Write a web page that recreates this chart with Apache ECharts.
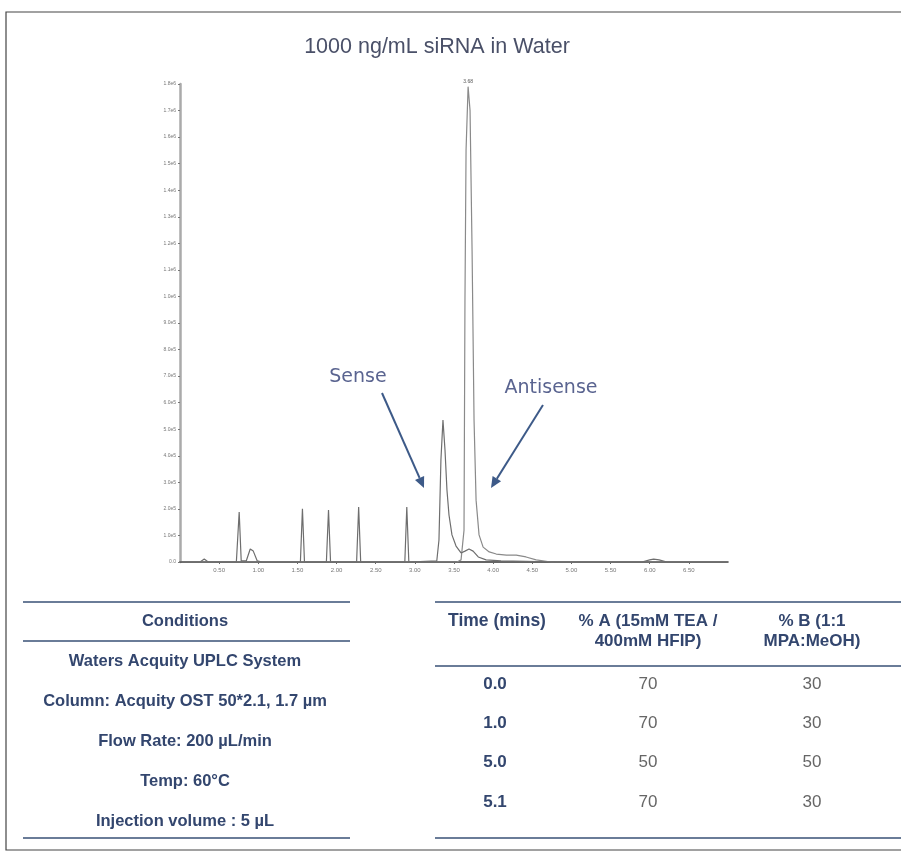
<!DOCTYPE html>
<html><head><meta charset="utf-8">
<script src="https://cdn.jsdelivr.net/npm/echarts@6/dist/echarts.min.js"></script>
<style>html,body{margin:0;padding:0;background:#fff}#c{width:901px;height:854px}</style>
</head><body><div id="c"></div>
<script>
// ---- data (minutes, intensity counts) ----
const senseTime = [0, 0.256, 0.31, 0.36, 0.72, 0.756, 0.782, 0.846, 0.897, 0.936, 0.987, 1.05, 1.538, 1.564, 1.59, 1.87, 1.897, 1.923, 2.256, 2.282, 2.308, 2.872, 2.897, 2.923, 3.28, 3.308, 3.333, 3.359, 3.385, 3.41, 3.436, 3.474, 3.526, 3.59, 3.64, 3.692, 3.744, 3.81, 3.91, 4.1, 4.87, 5.9, 6.0, 6.05, 6.12, 6.22, 7.0];
const senseIntensity = [0, 0, 11000, 0, 0, 188000, 4000, 4000, 49000, 41000, 4000, 0, 0, 200000, 0, 0, 196000, 0, 0, 207000, 0, 0, 207000, 0, 4000, 83000, 384000, 535000, 422000, 271000, 177000, 102000, 60000, 34000, 41000, 49000, 41000, 19000, 8000, 4000, 0, 0, 8000, 11000, 8000, 0, 0];
const antiTime = [0, 3.54, 3.59, 3.628, 3.64, 3.654, 3.68, 3.705, 3.731, 3.756, 3.782, 3.82, 3.872, 3.95, 4.04, 4.17, 4.295, 4.42, 4.55, 4.74, 7.0];
const antiIntensity = [0, 0, 8000, 120000, 987000, 1550000, 1790000, 1700000, 1170000, 535000, 233000, 102000, 56000, 38000, 30000, 26000, 26000, 19000, 8000, 0, 0];
const xTicks = {min: 0, max: 7.0, interval: 0.5};
const yTicks = {min: 0, max: 1800000, interval: 100000};
const titleText = '1000 ng/mL siRNA in Water';
const conditions = ['Waters Acquity UPLC System', 'Column: Acquity OST 50*2.1, 1.7 µm', 'Flow Rate: 200 µL/min', 'Temp: 60°C', 'Injection volume : 5 µL'];
const gradTimes = ['0.0', '1.0', '5.0', '5.1'];
const gradA = ['70', '70', '50', '70'];
const gradB = ['30', '30', '50', '30'];

const senseData = senseTime.map((t, i) => [t, senseIntensity[i]]);
const antiData = antiTime.map((t, i) => [t, antiIntensity[i]]);

const navy = '#33466e';
const lineBlue = '#6a7c98';
const boldFont = "'Liberation Sans', Arial, sans-serif";

const g = [];
// outer frame
g.push({type: 'rect', shape: {x: 6, y: 12, width: 902, height: 838}, style: {fill: 'none', stroke: '#444', lineWidth: 1.2}, silent: true});
// annotations
g.push({type: 'text', x: 358, y: 377, style: {text: 'Sense', font: "19px 'DejaVu Sans', Verdana, sans-serif", fill: '#5a6490', textAlign: 'center', textVerticalAlign: 'middle'}});
g.push({type: 'text', x: 551, y: 388, style: {text: 'Antisense', font: "19px 'DejaVu Sans', Verdana, sans-serif", fill: '#5a6490', textAlign: 'center', textVerticalAlign: 'middle'}});
function arrow(x1, y1, x2, y2) {
  const ang = Math.atan2(y2 - y1, x2 - x1), L = 11, W = 5;
  const bx = x2 - L * Math.cos(ang), by = y2 - L * Math.sin(ang);
  const px = -Math.sin(ang) * W, py = Math.cos(ang) * W;
  g.push({type: 'line', shape: {x1: x1, y1: y1, x2: bx, y2: by}, style: {stroke: '#3d5a88', lineWidth: 2}});
  g.push({type: 'polygon', shape: {points: [[x2, y2], [bx + px, by + py], [bx - px, by - py]]}, style: {fill: '#3d5a88'}});
}
arrow(382, 393, 424, 488);
arrow(543, 405, 491, 488);
// left table
function hline(x1, x2, y) { g.push({type: 'line', shape: {x1: x1, y1: y, x2: x2, y2: y}, style: {stroke: lineBlue, lineWidth: 2}}); }
hline(23, 350, 602); hline(23, 350, 641); hline(23, 350, 838);
function txt(s, x, y, bold, color, size, sx) {
  g.push({type: 'text', x: x, y: y, scaleX: sx || 1, style: {text: s, font: (bold ? 'bold ' : '') + (size || 16.5) + 'px ' + boldFont, fill: color, textAlign: 'center', textVerticalAlign: 'middle'}});
}
txt('Conditions', 185, 621, true, navy);
conditions.forEach((s, i) => txt(s, 185, 661 + i * 40, true, navy));
// right table
hline(435, 901, 602); hline(435, 901, 666); hline(435, 901, 838);
txt('Time (mins)', 497, 621, true, navy, 17.5);
txt('% A (15mM TEA /', 648, 621, true, navy, 17);
txt('400mM HFIP)', 648, 641, true, navy, 17);
txt('% B (1:1', 812, 621, true, navy, 17);
txt('MPA:MeOH)', 812, 641, true, navy, 17);
gradTimes.forEach((s, i) => {
  const y = 684 + i * 39.3;
  txt(s, 495, y, true, navy, 17);
  txt(gradA[i], 648, y, false, '#666', 17);
  txt(gradB[i], 812, y, false, '#666', 17);
});

const chart = echarts.init(document.getElementById('c'), null, {renderer: 'canvas'});
chart.setOption({
  animation: false,
  backgroundColor: '#fff',
  title: {text: titleText, left: 432, top: 31, textAlign: 'center',
    textStyle: {fontSize: 21.5, fontWeight: 'normal', color: '#4a5068', fontFamily: boldFont}},
  grid: {left: 180, right: 173, top: 84, bottom: 292, containLabel: false},
  xAxis: {type: 'value', min: xTicks.min, max: xTicks.max, interval: xTicks.interval,
    axisLine: {show: true, onZero: false, lineStyle: {color: '#333', width: 1.5}},
    axisTick: {show: true, length: 2, lineStyle: {color: '#666'}},
    axisLabel: {showMinLabel: false, showMaxLabel: false, fontSize: 6, color: '#777', margin: 5,
      formatter: v => v.toFixed(2)},
    splitLine: {show: false}},
  yAxis: {type: 'value', min: yTicks.min, max: yTicks.max, interval: yTicks.interval,
    axisLine: {show: true, lineStyle: {color: '#aaa', width: 2.5}},
    axisTick: {show: true, length: 2, lineStyle: {color: '#777'}},
    axisLabel: {fontSize: 5, color: '#777', margin: 4,
      formatter: v => v === 0 ? '0.0' : v.toExponential(1).replace('+', '')},
    splitLine: {show: false}},
  series: [
    {type: 'line', name: 'Sense', data: senseData, showSymbol: false, symbol: 'none',
      lineStyle: {color: '#6e6e6e', width: 1.2}, z: 3},
    {type: 'line', name: 'Antisense', data: antiData, showSymbol: false, symbol: 'none',
      lineStyle: {color: '#8a8a8a', width: 1.2}, z: 2,
      markPoint: {symbol: 'circle', symbolSize: 0, data: [{type: 'max'}],
        label: {show: true, position: 'top', distance: 3, fontSize: 5, color: '#555',
          formatter: p => p.data.coord ? p.data.coord[0].toFixed(2) : '3.68'}}}
  ],
  graphic: g
});
</script></body></html>
